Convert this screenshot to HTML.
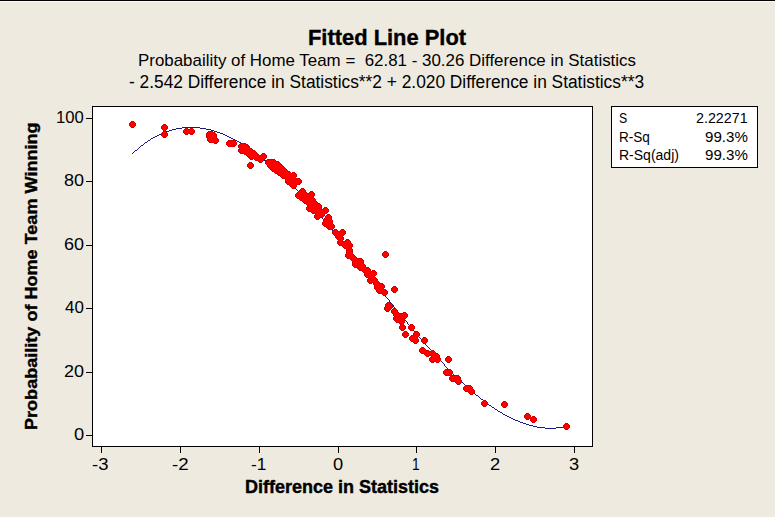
<!DOCTYPE html>
<html><head><meta charset="utf-8"><style>
html,body{margin:0;padding:0;}
body{width:775px;height:517px;overflow:hidden;background:#EEEAE0;position:relative;font-family:"Liberation Sans",sans-serif;color:#000;}
.t{position:absolute;white-space:nowrap;line-height:1;transform-origin:0 0;}
#topline{position:absolute;left:0;top:0;width:775px;height:1px;background:#000;}
#topline2{position:absolute;left:0;top:1px;width:775px;height:1px;background:#FBFAF3;}
svg{position:absolute;left:0;top:0;}
</style></head><body>
<div id="topline"></div><div id="topline2"></div>
<svg width="775" height="517" viewBox="0 0 775 517">
<rect x="92.5" y="106.5" width="500" height="340" fill="#fff" stroke="#000" stroke-width="1" shape-rendering="crispEdges"/>
<g stroke="#000" stroke-width="1" shape-rendering="crispEdges"><line x1="86" y1="118.5" x2="92" y2="118.5"/><line x1="86" y1="181.5" x2="92" y2="181.5"/><line x1="86" y1="245.5" x2="92" y2="245.5"/><line x1="86" y1="308.5" x2="92" y2="308.5"/><line x1="86" y1="372.5" x2="92" y2="372.5"/><line x1="86" y1="435.5" x2="92" y2="435.5"/><line x1="101.5" y1="447" x2="101.5" y2="453"/><line x1="180.5" y1="447" x2="180.5" y2="453"/><line x1="259.5" y1="447" x2="259.5" y2="453"/><line x1="338.5" y1="447" x2="338.5" y2="453"/><line x1="416.5" y1="447" x2="416.5" y2="453"/><line x1="495.5" y1="447" x2="495.5" y2="453"/><line x1="574.5" y1="447" x2="574.5" y2="453"/></g>
<rect x="611.5" y="106.5" width="146" height="61" fill="#fff" stroke="#000" stroke-width="1" shape-rendering="crispEdges"/>
<path d="M182 127h18v1h-18zM176 128h6v1h-6zM200 128h6v1h-6zM172 129h4v1h-4zM206 129h5v1h-5zM169 130h3v1h-3zM211 130h3v1h-3zM166 131h3v1h-3zM214 131h3v1h-3zM163 132h3v1h-3zM217 132h3v1h-3zM161 133h2v1h-2zM220 133h3v1h-3zM159 134h2v1h-2zM223 134h2v1h-2zM157 135h2v1h-2zM225 135h2v1h-2zM155 136h2v1h-2zM227 136h2v1h-2zM153 137h2v1h-2zM229 137h2v1h-2zM151 138h2v1h-2zM231 138h2v1h-2zM150 139h1v1h-1zM233 139h2v1h-2zM148 140h2v1h-2zM235 140h2v1h-2zM147 141h1v1h-1zM237 141h2v1h-2zM145 142h2v1h-2zM239 142h2v1h-2zM144 143h1v1h-1zM241 143h1v1h-1zM143 144h1v1h-1zM242 144h2v1h-2zM141 145h2v1h-2zM244 145h1v1h-1zM140 146h1v1h-1zM245 146h2v1h-2zM139 147h1v1h-1zM247 147h1v1h-1zM138 148h1v1h-1zM248 148h2v1h-2zM137 149h1v1h-1zM250 149h1v1h-1zM135 150h2v1h-2zM251 150h2v1h-2zM134 151h1v1h-1zM253 151h1v1h-1zM133 152h1v1h-1zM254 152h1v1h-1zM132 153h1v1h-1zM255 153h2v1h-2zM257 154h1v1h-1zM258 155h1v1h-1zM259 156h2v1h-2zM261 157h1v1h-1zM262 158h1v1h-1zM263 159h1v1h-1zM264 160h2v1h-2zM266 161h1v1h-1zM267 162h1v1h-1zM268 163h1v1h-1zM269 164h1v1h-1zM270 165h2v1h-2zM272 166h1v1h-1zM273 167h1v1h-1zM274 168h1v1h-1zM275 169h1v1h-1zM276 170h1v1h-1zM277 171h1v1h-1zM278 172h1v1h-1zM279 173h1v1h-1zM280 174h1v1h-1zM281 175h2v1h-2zM283 176h1v1h-1zM284 177h1v1h-1zM285 178h1v1h-1zM286 179h1v1h-1zM287 180h1v1h-1zM288 181h1v1h-1zM289 182h1v1h-1zM290 183h1v1h-1zM291 184h1v1h-1zM292 185h1v1h-1zM293 186h1v1h-1zM294 187h1v1h-1zM295 188h1v1h-1zM296 189h1v1h-1zM297 190h1v1h-1zM298 191h1v1h-1zM298 192h1v1h-1zM299 193h1v1h-1zM300 194h1v1h-1zM301 195h1v1h-1zM302 196h1v1h-1zM303 197h1v1h-1zM304 198h1v1h-1zM305 199h1v1h-1zM306 200h1v1h-1zM307 201h1v1h-1zM308 202h1v1h-1zM309 203h1v1h-1zM310 204h1v1h-1zM310 205h1v1h-1zM311 206h1v1h-1zM312 207h1v1h-1zM313 208h1v1h-1zM314 209h1v1h-1zM315 210h1v1h-1zM316 211h1v1h-1zM317 212h1v1h-1zM318 213h1v1h-1zM318 214h1v1h-1zM319 215h1v1h-1zM320 216h1v1h-1zM321 217h1v1h-1zM322 218h1v1h-1zM323 219h1v1h-1zM324 220h1v1h-1zM324 221h1v1h-1zM325 222h1v1h-1zM326 223h1v1h-1zM327 224h1v1h-1zM328 225h1v1h-1zM329 226h1v1h-1zM330 227h1v1h-1zM330 228h1v1h-1zM331 229h1v1h-1zM332 230h1v1h-1zM333 231h1v1h-1zM334 232h1v1h-1zM335 233h1v1h-1zM335 234h1v1h-1zM336 235h1v1h-1zM337 236h1v1h-1zM338 237h1v1h-1zM339 238h1v1h-1zM340 239h1v1h-1zM340 240h1v1h-1zM341 241h1v1h-1zM342 242h1v1h-1zM343 243h1v1h-1zM344 244h1v1h-1zM344 245h1v1h-1zM345 246h1v1h-1zM346 247h1v1h-1zM347 248h1v1h-1zM348 249h1v1h-1zM349 250h1v1h-1zM349 251h1v1h-1zM350 252h1v1h-1zM351 253h1v1h-1zM352 254h1v1h-1zM353 255h1v1h-1zM353 256h1v1h-1zM354 257h1v1h-1zM355 258h1v1h-1zM356 259h1v1h-1zM357 260h1v1h-1zM357 261h1v1h-1zM358 262h1v1h-1zM359 263h1v1h-1zM360 264h1v1h-1zM361 265h1v1h-1zM361 266h1v1h-1zM362 267h1v1h-1zM363 268h1v1h-1zM364 269h1v1h-1zM365 270h1v1h-1zM365 271h1v1h-1zM366 272h1v1h-1zM367 273h1v1h-1zM368 274h1v1h-1zM369 275h1v1h-1zM369 276h1v1h-1zM370 277h1v1h-1zM371 278h1v1h-1zM372 279h1v1h-1zM373 280h1v1h-1zM373 281h1v1h-1zM374 282h1v1h-1zM375 283h1v1h-1zM376 284h1v1h-1zM377 285h1v1h-1zM377 286h1v1h-1zM378 287h1v1h-1zM379 288h1v1h-1zM380 289h1v1h-1zM381 290h1v1h-1zM381 291h1v1h-1zM382 292h1v1h-1zM383 293h1v1h-1zM384 294h1v1h-1zM385 295h1v1h-1zM385 296h1v1h-1zM386 297h1v1h-1zM387 298h1v1h-1zM388 299h1v1h-1zM389 300h1v1h-1zM389 301h1v1h-1zM390 302h1v1h-1zM391 303h1v1h-1zM392 304h1v1h-1zM393 305h1v1h-1zM393 306h1v1h-1zM394 307h1v1h-1zM395 308h1v1h-1zM396 309h1v1h-1zM397 310h1v1h-1zM397 311h1v1h-1zM398 312h1v1h-1zM399 313h1v1h-1zM400 314h1v1h-1zM401 315h1v1h-1zM402 316h1v1h-1zM402 317h1v1h-1zM403 318h1v1h-1zM404 319h1v1h-1zM405 320h1v1h-1zM406 321h1v1h-1zM407 322h1v1h-1zM407 323h1v1h-1zM408 324h1v1h-1zM409 325h1v1h-1zM410 326h1v1h-1zM411 327h1v1h-1zM412 328h1v1h-1zM412 329h1v1h-1zM413 330h1v1h-1zM414 331h1v1h-1zM415 332h1v1h-1zM416 333h1v1h-1zM417 334h1v1h-1zM417 335h1v1h-1zM418 336h1v1h-1zM419 337h1v1h-1zM420 338h1v1h-1zM421 339h1v1h-1zM422 340h1v1h-1zM423 341h1v1h-1zM424 342h1v1h-1zM424 343h1v1h-1zM425 344h1v1h-1zM426 345h1v1h-1zM427 346h1v1h-1zM428 347h1v1h-1zM429 348h1v1h-1zM430 349h1v1h-1zM431 350h1v1h-1zM431 351h1v1h-1zM432 352h1v1h-1zM433 353h1v1h-1zM434 354h1v1h-1zM435 355h1v1h-1zM436 356h1v1h-1zM437 357h1v1h-1zM438 358h1v1h-1zM439 359h1v1h-1zM440 360h1v1h-1zM441 361h1v1h-1zM442 362h1v1h-1zM443 363h1v1h-1zM444 364h1v1h-1zM444 365h1v1h-1zM445 366h1v1h-1zM446 367h1v1h-1zM447 368h1v1h-1zM448 369h1v1h-1zM449 370h1v1h-1zM450 371h1v1h-1zM451 372h1v1h-1zM452 373h1v1h-1zM453 374h1v1h-1zM454 375h1v1h-1zM455 376h1v1h-1zM456 377h1v1h-1zM457 378h1v1h-1zM458 379h2v1h-2zM460 380h1v1h-1zM461 381h1v1h-1zM462 382h1v1h-1zM463 383h1v1h-1zM464 384h1v1h-1zM465 385h1v1h-1zM466 386h1v1h-1zM467 387h1v1h-1zM468 388h1v1h-1zM469 389h1v1h-1zM470 390h2v1h-2zM472 391h1v1h-1zM473 392h1v1h-1zM474 393h1v1h-1zM475 394h1v1h-1zM476 395h2v1h-2zM478 396h1v1h-1zM479 397h1v1h-1zM480 398h1v1h-1zM481 399h2v1h-2zM483 400h1v1h-1zM484 401h1v1h-1zM485 402h2v1h-2zM487 403h1v1h-1zM488 404h1v1h-1zM489 405h2v1h-2zM491 406h1v1h-1zM492 407h2v1h-2zM494 408h1v1h-1zM495 409h2v1h-2zM497 410h1v1h-1zM498 411h2v1h-2zM500 412h2v1h-2zM502 413h1v1h-1zM503 414h2v1h-2zM505 415h2v1h-2zM507 416h2v1h-2zM509 417h2v1h-2zM511 418h2v1h-2zM513 419h2v1h-2zM515 420h3v1h-3zM518 421h2v1h-2zM520 422h3v1h-3zM523 423h3v1h-3zM526 424h3v1h-3zM529 425h4v1h-4zM533 426h4v1h-4zM564 426h3v1h-3zM537 427h8v1h-8zM556 427h8v1h-8zM545 428h11v1h-11z" fill="#1A1A86" shape-rendering="crispEdges"/>
<path d="M131 121h3v1h-3zM130 122h1v1h-1zM134 122h1v1h-1zM129 123h1v1h-1zM135 123h1v1h-1zM129 124h1v1h-1zM135 124h1v1h-1zM163 124h3v1h-3zM129 125h1v1h-1zM135 125h1v1h-1zM162 125h1v1h-1zM166 125h1v1h-1zM130 126h1v1h-1zM134 126h1v1h-1zM161 126h1v1h-1zM167 126h1v1h-1zM131 127h3v1h-3zM161 127h1v1h-1zM167 127h1v1h-1zM161 128h1v1h-1zM167 128h1v1h-1zM185 128h3v1h-3zM190 128h3v1h-3zM162 129h1v1h-1zM166 129h1v1h-1zM184 129h1v1h-1zM188 129h2v1h-2zM193 129h1v1h-1zM163 130h1v1h-1zM165 130h1v1h-1zM183 130h1v1h-1zM194 130h1v1h-1zM163 131h1v1h-1zM165 131h1v1h-1zM183 131h1v1h-1zM194 131h1v1h-1zM208 131h5v1h-5zM162 132h1v1h-1zM166 132h1v1h-1zM183 132h1v1h-1zM194 132h1v1h-1zM207 132h1v1h-1zM213 132h2v1h-2zM161 133h1v1h-1zM167 133h1v1h-1zM184 133h1v1h-1zM188 133h2v1h-2zM193 133h1v1h-1zM206 133h1v1h-1zM215 133h1v1h-1zM161 134h1v1h-1zM167 134h1v1h-1zM185 134h3v1h-3zM190 134h3v1h-3zM206 134h1v1h-1zM216 134h1v1h-1zM161 135h1v1h-1zM167 135h1v1h-1zM206 135h1v1h-1zM216 135h1v1h-1zM162 136h1v1h-1zM166 136h1v1h-1zM206 136h1v1h-1zM216 136h1v1h-1zM163 137h3v1h-3zM206 137h1v1h-1zM216 137h1v1h-1zM207 138h1v1h-1zM217 138h1v1h-1zM207 139h1v1h-1zM218 139h1v1h-1zM207 140h1v1h-1zM218 140h1v1h-1zM228 140h7v1h-7zM208 141h1v1h-1zM218 141h1v1h-1zM227 141h1v1h-1zM235 141h1v1h-1zM209 142h5v1h-5zM217 142h1v1h-1zM226 142h1v1h-1zM236 142h1v1h-1zM214 143h3v1h-3zM226 143h1v1h-1zM236 143h1v1h-1zM240 143h6v1h-6zM226 144h1v1h-1zM236 144h1v1h-1zM239 144h1v1h-1zM246 144h2v1h-2zM227 145h1v1h-1zM235 145h1v1h-1zM238 145h1v1h-1zM248 145h1v1h-1zM228 146h7v1h-7zM238 146h1v1h-1zM249 146h1v1h-1zM238 147h1v1h-1zM249 147h1v1h-1zM239 148h1v1h-1zM250 148h2v1h-2zM238 149h1v1h-1zM252 149h1v1h-1zM238 150h1v1h-1zM253 150h2v1h-2zM238 151h1v1h-1zM255 151h1v1h-1zM239 152h1v1h-1zM256 152h1v1h-1zM240 153h4v1h-4zM257 153h1v1h-1zM262 153h3v1h-3zM244 154h2v1h-2zM258 154h1v1h-1zM261 154h1v1h-1zM265 154h1v1h-1zM246 155h1v1h-1zM259 155h2v1h-2zM266 155h1v1h-1zM247 156h1v1h-1zM266 156h1v1h-1zM248 157h1v1h-1zM266 157h1v1h-1zM249 158h1v1h-1zM253 158h1v1h-1zM265 158h1v1h-1zM250 159h3v1h-3zM254 159h1v1h-1zM264 159h1v1h-1zM267 159h8v1h-8zM255 160h3v1h-3zM263 160h1v1h-1zM266 160h1v1h-1zM275 160h1v1h-1zM258 161h1v1h-1zM262 161h1v1h-1zM265 161h1v1h-1zM276 161h3v1h-3zM249 162h3v1h-3zM259 162h3v1h-3zM265 162h1v1h-1zM279 162h1v1h-1zM248 163h1v1h-1zM252 163h1v1h-1zM265 163h1v1h-1zM280 163h1v1h-1zM247 164h1v1h-1zM253 164h1v1h-1zM266 164h1v1h-1zM281 164h1v1h-1zM247 165h1v1h-1zM253 165h1v1h-1zM267 165h1v1h-1zM282 165h1v1h-1zM247 166h1v1h-1zM253 166h1v1h-1zM267 166h1v1h-1zM283 166h1v1h-1zM248 167h1v1h-1zM252 167h1v1h-1zM268 167h1v1h-1zM284 167h1v1h-1zM249 168h3v1h-3zM269 168h1v1h-1zM285 168h1v1h-1zM270 169h1v1h-1zM286 169h1v1h-1zM271 170h1v1h-1zM287 170h1v1h-1zM272 171h2v1h-2zM288 171h2v1h-2zM274 172h1v1h-1zM290 172h1v1h-1zM292 172h3v1h-3zM275 173h2v1h-2zM291 173h1v1h-1zM295 173h1v1h-1zM277 174h1v1h-1zM296 174h1v1h-1zM278 175h2v1h-2zM296 175h1v1h-1zM280 176h1v1h-1zM296 176h1v1h-1zM281 177h1v1h-1zM295 177h1v1h-1zM282 178h3v1h-3zM296 178h4v1h-4zM285 179h1v1h-1zM300 179h1v1h-1zM285 180h1v1h-1zM301 180h1v1h-1zM285 181h1v1h-1zM301 181h1v1h-1zM285 182h1v1h-1zM301 182h1v1h-1zM286 183h1v1h-1zM300 183h1v1h-1zM287 184h2v1h-2zM297 184h3v1h-3zM289 185h1v1h-1zM296 185h1v1h-1zM290 186h1v1h-1zM296 186h1v1h-1zM291 187h1v1h-1zM295 187h1v1h-1zM292 188h3v1h-3zM301 188h3v1h-3zM300 189h1v1h-1zM304 189h1v1h-1zM299 190h1v1h-1zM305 190h1v1h-1zM298 191h1v1h-1zM305 191h1v1h-1zM310 191h3v1h-3zM297 192h1v1h-1zM306 192h1v1h-1zM309 192h1v1h-1zM313 192h1v1h-1zM296 193h1v1h-1zM307 193h2v1h-2zM314 193h1v1h-1zM295 194h1v1h-1zM314 194h1v1h-1zM295 195h1v1h-1zM314 195h1v1h-1zM295 196h1v1h-1zM313 196h1v1h-1zM296 197h1v1h-1zM313 197h1v1h-1zM297 198h2v1h-2zM314 198h1v1h-1zM299 199h1v1h-1zM315 199h1v1h-1zM300 200h2v1h-2zM315 200h1v1h-1zM302 201h1v1h-1zM316 201h1v1h-1zM303 202h1v1h-1zM317 202h1v1h-1zM304 203h2v1h-2zM318 203h2v1h-2zM306 204h1v1h-1zM320 204h1v1h-1zM307 205h1v1h-1zM321 205h1v1h-1zM307 206h1v1h-1zM321 206h1v1h-1zM306 207h1v1h-1zM321 207h1v1h-1zM324 207h3v1h-3zM306 208h1v1h-1zM321 208h1v1h-1zM323 208h1v1h-1zM327 208h1v1h-1zM306 209h1v1h-1zM322 209h1v1h-1zM328 209h1v1h-1zM307 210h1v1h-1zM328 210h1v1h-1zM308 211h3v1h-3zM328 211h1v1h-1zM311 212h1v1h-1zM327 212h1v1h-1zM312 213h3v1h-3zM325 213h2v1h-2zM315 214h1v1h-1zM324 214h1v1h-1zM327 214h3v1h-3zM314 215h1v1h-1zM324 215h1v1h-1zM326 215h1v1h-1zM330 215h1v1h-1zM314 216h1v1h-1zM323 216h1v1h-1zM325 216h1v1h-1zM331 216h1v1h-1zM314 217h1v1h-1zM320 217h3v1h-3zM325 217h1v1h-1zM331 217h1v1h-1zM315 218h1v1h-1zM319 218h1v1h-1zM324 218h1v1h-1zM331 218h1v1h-1zM316 219h3v1h-3zM323 219h1v1h-1zM331 219h1v1h-1zM323 220h1v1h-1zM332 220h1v1h-1zM323 221h1v1h-1zM332 221h1v1h-1zM322 222h1v1h-1zM332 222h1v1h-1zM322 223h1v1h-1zM332 223h1v1h-1zM322 224h1v1h-1zM333 224h1v1h-1zM323 225h1v1h-1zM334 225h1v1h-1zM324 226h2v1h-2zM334 226h1v1h-1zM326 227h1v1h-1zM334 227h1v1h-1zM327 228h1v1h-1zM333 228h1v1h-1zM328 229h5v1h-5zM334 229h3v1h-3zM341 229h3v1h-3zM333 230h1v1h-1zM337 230h1v1h-1zM340 230h1v1h-1zM344 230h1v1h-1zM332 231h1v1h-1zM338 231h2v1h-2zM345 231h1v1h-1zM332 232h1v1h-1zM345 232h1v1h-1zM332 233h1v1h-1zM345 233h1v1h-1zM333 234h1v1h-1zM344 234h1v1h-1zM334 235h1v1h-1zM343 235h1v1h-1zM335 236h1v1h-1zM342 236h1v1h-1zM335 237h1v1h-1zM343 237h1v1h-1zM336 238h1v1h-1zM343 238h1v1h-1zM337 239h1v1h-1zM343 239h1v1h-1zM346 239h3v1h-3zM338 240h1v1h-1zM342 240h1v1h-1zM345 240h1v1h-1zM349 240h1v1h-1zM337 241h1v1h-1zM343 241h2v1h-2zM350 241h1v1h-1zM337 242h1v1h-1zM350 242h1v1h-1zM337 243h1v1h-1zM351 243h1v1h-1zM338 244h1v1h-1zM352 244h1v1h-1zM339 245h3v1h-3zM352 245h1v1h-1zM342 246h1v1h-1zM352 246h1v1h-1zM343 247h1v1h-1zM351 247h1v1h-1zM344 248h2v1h-2zM351 248h1v1h-1zM346 249h1v1h-1zM352 249h1v1h-1zM346 250h1v1h-1zM352 250h1v1h-1zM346 251h1v1h-1zM352 251h1v1h-1zM384 251h3v1h-3zM346 252h1v1h-1zM352 252h1v1h-1zM383 252h1v1h-1zM387 252h1v1h-1zM346 253h1v1h-1zM352 253h1v1h-1zM382 253h1v1h-1zM388 253h1v1h-1zM345 254h1v1h-1zM353 254h1v1h-1zM382 254h1v1h-1zM388 254h1v1h-1zM345 255h1v1h-1zM354 255h1v1h-1zM382 255h1v1h-1zM388 255h1v1h-1zM345 256h1v1h-1zM355 256h1v1h-1zM383 256h1v1h-1zM387 256h1v1h-1zM346 257h1v1h-1zM356 257h1v1h-1zM384 257h3v1h-3zM347 258h3v1h-3zM357 258h5v1h-5zM350 259h1v1h-1zM362 259h1v1h-1zM351 260h1v1h-1zM363 260h1v1h-1zM352 261h1v1h-1zM363 261h1v1h-1zM352 262h1v1h-1zM363 262h1v1h-1zM352 263h1v1h-1zM363 263h1v1h-1zM352 264h1v1h-1zM364 264h1v1h-1zM352 265h1v1h-1zM365 265h1v1h-1zM353 266h1v1h-1zM365 266h1v1h-1zM354 267h3v1h-3zM366 267h3v1h-3zM357 268h1v1h-1zM369 268h1v1h-1zM358 269h1v1h-1zM370 269h1v1h-1zM359 270h3v1h-3zM370 270h1v1h-1zM372 270h3v1h-3zM362 271h1v1h-1zM371 271h1v1h-1zM375 271h1v1h-1zM363 272h1v1h-1zM376 272h1v1h-1zM364 273h1v1h-1zM376 273h1v1h-1zM364 274h1v1h-1zM376 274h1v1h-1zM364 275h1v1h-1zM375 275h1v1h-1zM365 276h1v1h-1zM374 276h1v1h-1zM366 277h2v1h-2zM375 277h1v1h-1zM368 278h1v1h-1zM376 278h1v1h-1zM367 279h1v1h-1zM377 279h1v1h-1zM367 280h1v1h-1zM377 280h1v1h-1zM367 281h1v1h-1zM378 281h1v1h-1zM368 282h1v1h-1zM372 282h1v1h-1zM379 282h1v1h-1zM369 283h3v1h-3zM373 283h1v1h-1zM380 283h3v1h-3zM373 284h1v1h-1zM383 284h1v1h-1zM374 285h1v1h-1zM384 285h1v1h-1zM374 286h1v1h-1zM384 286h1v1h-1zM393 286h3v1h-3zM374 287h1v1h-1zM384 287h1v1h-1zM392 287h1v1h-1zM396 287h1v1h-1zM374 288h1v1h-1zM383 288h1v1h-1zM391 288h1v1h-1zM397 288h1v1h-1zM375 289h1v1h-1zM384 289h2v1h-2zM391 289h1v1h-1zM397 289h1v1h-1zM376 290h1v1h-1zM386 290h1v1h-1zM391 290h1v1h-1zM397 290h1v1h-1zM376 291h1v1h-1zM387 291h1v1h-1zM392 291h1v1h-1zM396 291h1v1h-1zM377 292h1v1h-1zM387 292h1v1h-1zM393 292h3v1h-3zM378 293h4v1h-4zM387 293h1v1h-1zM382 294h1v1h-1zM386 294h1v1h-1zM383 295h3v1h-3zM387 302h3v1h-3zM386 303h1v1h-1zM390 303h1v1h-1zM385 304h1v1h-1zM391 304h1v1h-1zM385 305h1v1h-1zM392 305h1v1h-1zM385 306h1v1h-1zM392 306h1v1h-1zM384 307h1v1h-1zM392 307h1v1h-1zM384 308h1v1h-1zM391 308h1v1h-1zM393 308h3v1h-3zM384 309h1v1h-1zM390 309h1v1h-1zM392 309h1v1h-1zM396 309h1v1h-1zM385 310h1v1h-1zM389 310h1v1h-1zM391 310h1v1h-1zM397 310h1v1h-1zM386 311h3v1h-3zM391 311h1v1h-1zM397 311h1v1h-1zM391 312h1v1h-1zM398 312h1v1h-1zM403 312h3v1h-3zM392 313h1v1h-1zM399 313h4v1h-4zM406 313h1v1h-1zM393 314h1v1h-1zM407 314h1v1h-1zM393 315h1v1h-1zM407 315h1v1h-1zM394 316h1v1h-1zM407 316h1v1h-1zM393 317h1v1h-1zM406 317h1v1h-1zM393 318h1v1h-1zM404 318h2v1h-2zM393 319h1v1h-1zM403 319h1v1h-1zM394 320h1v1h-1zM404 320h1v1h-1zM395 321h1v1h-1zM404 321h1v1h-1zM396 322h3v1h-3zM404 322h1v1h-1zM399 323h1v1h-1zM403 323h1v1h-1zM400 324h1v1h-1zM403 324h1v1h-1zM410 324h3v1h-3zM400 325h1v1h-1zM404 325h1v1h-1zM409 325h1v1h-1zM413 325h1v1h-1zM399 326h1v1h-1zM405 326h1v1h-1zM408 326h1v1h-1zM414 326h1v1h-1zM399 327h1v1h-1zM405 327h1v1h-1zM408 327h1v1h-1zM414 327h1v1h-1zM399 328h1v1h-1zM405 328h1v1h-1zM408 328h1v1h-1zM414 328h1v1h-1zM400 329h1v1h-1zM404 329h1v1h-1zM409 329h1v1h-1zM413 329h1v1h-1zM401 330h3v1h-3zM410 330h3v1h-3zM404 331h3v1h-3zM415 331h3v1h-3zM403 332h1v1h-1zM407 332h1v1h-1zM414 332h1v1h-1zM418 332h1v1h-1zM402 333h1v1h-1zM408 333h1v1h-1zM413 333h1v1h-1zM419 333h1v1h-1zM402 334h1v1h-1zM408 334h1v1h-1zM413 334h1v1h-1zM419 334h1v1h-1zM402 335h1v1h-1zM408 335h1v1h-1zM411 335h2v1h-2zM419 335h1v1h-1zM403 336h1v1h-1zM407 336h1v1h-1zM410 336h1v1h-1zM418 336h1v1h-1zM404 337h3v1h-3zM409 337h1v1h-1zM417 337h1v1h-1zM423 337h3v1h-3zM409 338h1v1h-1zM417 338h1v1h-1zM422 338h1v1h-1zM426 338h1v1h-1zM409 339h1v1h-1zM418 339h1v1h-1zM421 339h1v1h-1zM427 339h1v1h-1zM410 340h1v1h-1zM418 340h1v1h-1zM421 340h1v1h-1zM427 340h1v1h-1zM411 341h2v1h-2zM418 341h1v1h-1zM421 341h1v1h-1zM427 341h1v1h-1zM413 342h1v1h-1zM417 342h1v1h-1zM422 342h1v1h-1zM426 342h1v1h-1zM414 343h3v1h-3zM423 343h3v1h-3zM421 347h3v1h-3zM420 348h1v1h-1zM424 348h1v1h-1zM419 349h1v1h-1zM425 349h1v1h-1zM419 350h1v1h-1zM426 350h3v1h-3zM431 350h3v1h-3zM419 351h1v1h-1zM429 351h2v1h-2zM434 351h1v1h-1zM420 352h1v1h-1zM435 352h1v1h-1zM421 353h3v1h-3zM436 353h2v1h-2zM424 354h1v1h-1zM438 354h1v1h-1zM425 355h1v1h-1zM429 355h2v1h-2zM439 355h1v1h-1zM426 356h3v1h-3zM431 356h1v1h-1zM439 356h1v1h-1zM447 356h3v1h-3zM430 357h1v1h-1zM439 357h1v1h-1zM446 357h1v1h-1zM450 357h1v1h-1zM429 358h1v1h-1zM440 358h1v1h-1zM445 358h1v1h-1zM451 358h1v1h-1zM429 359h1v1h-1zM440 359h1v1h-1zM445 359h1v1h-1zM451 359h1v1h-1zM429 360h1v1h-1zM440 360h1v1h-1zM445 360h1v1h-1zM451 360h1v1h-1zM430 361h1v1h-1zM434 361h2v1h-2zM439 361h1v1h-1zM446 361h1v1h-1zM450 361h1v1h-1zM431 362h3v1h-3zM436 362h3v1h-3zM447 362h3v1h-3zM445 369h6v1h-6zM444 370h1v1h-1zM451 370h1v1h-1zM443 371h1v1h-1zM452 371h1v1h-1zM443 372h1v1h-1zM452 372h1v1h-1zM443 373h1v1h-1zM452 373h1v1h-1zM444 374h1v1h-1zM451 374h1v1h-1zM445 375h5v1h-5zM452 375h7v1h-7zM450 376h1v1h-1zM459 376h1v1h-1zM449 377h1v1h-1zM460 377h1v1h-1zM449 378h1v1h-1zM460 378h1v1h-1zM449 379h1v1h-1zM460 379h1v1h-1zM450 380h1v1h-1zM461 380h1v1h-1zM451 381h4v1h-4zM461 381h1v1h-1zM455 382h1v1h-1zM461 382h1v1h-1zM456 383h1v1h-1zM460 383h1v1h-1zM457 384h3v1h-3zM465 385h6v1h-6zM464 386h1v1h-1zM471 386h1v1h-1zM463 387h1v1h-1zM472 387h1v1h-1zM463 388h1v1h-1zM472 388h1v1h-1zM463 389h1v1h-1zM473 389h1v1h-1zM464 390h1v1h-1zM474 390h1v1h-1zM465 391h3v1h-3zM474 391h1v1h-1zM468 392h1v1h-1zM474 392h1v1h-1zM469 393h1v1h-1zM473 393h1v1h-1zM470 394h3v1h-3zM483 400h3v1h-3zM482 401h1v1h-1zM486 401h1v1h-1zM503 401h3v1h-3zM481 402h1v1h-1zM487 402h1v1h-1zM502 402h1v1h-1zM506 402h1v1h-1zM481 403h1v1h-1zM487 403h1v1h-1zM501 403h1v1h-1zM507 403h1v1h-1zM481 404h1v1h-1zM487 404h1v1h-1zM501 404h1v1h-1zM507 404h1v1h-1zM482 405h1v1h-1zM486 405h1v1h-1zM501 405h1v1h-1zM507 405h1v1h-1zM483 406h3v1h-3zM502 406h1v1h-1zM506 406h1v1h-1zM503 407h3v1h-3zM526 413h3v1h-3zM525 414h1v1h-1zM529 414h1v1h-1zM524 415h1v1h-1zM530 415h1v1h-1zM524 416h1v1h-1zM530 416h1v1h-1zM532 416h3v1h-3zM524 417h1v1h-1zM531 417h1v1h-1zM535 417h1v1h-1zM525 418h1v1h-1zM529 418h1v1h-1zM536 418h1v1h-1zM526 419h3v1h-3zM530 419h1v1h-1zM536 419h1v1h-1zM530 420h1v1h-1zM536 420h1v1h-1zM531 421h1v1h-1zM535 421h1v1h-1zM532 422h3v1h-3zM565 423h3v1h-3zM564 424h1v1h-1zM568 424h1v1h-1zM563 425h1v1h-1zM569 425h1v1h-1zM563 426h1v1h-1zM569 426h1v1h-1zM563 427h1v1h-1zM569 427h1v1h-1zM564 428h1v1h-1zM568 428h1v1h-1zM565 429h3v1h-3z" fill="#D00000" shape-rendering="crispEdges"/>
<path d="M131 122h3v1h-3zM130 123h5v1h-5zM130 124h5v1h-5zM130 125h5v1h-5zM163 125h3v1h-3zM131 126h3v1h-3zM162 126h5v1h-5zM162 127h5v1h-5zM162 128h5v1h-5zM163 129h3v1h-3zM185 129h3v1h-3zM190 129h3v1h-3zM164 130h1v1h-1zM184 130h10v1h-10zM164 131h1v1h-1zM184 131h10v1h-10zM163 132h3v1h-3zM184 132h10v1h-10zM208 132h5v1h-5zM162 133h5v1h-5zM185 133h3v1h-3zM190 133h3v1h-3zM207 133h8v1h-8zM162 134h5v1h-5zM207 134h9v1h-9zM162 135h5v1h-5zM207 135h9v1h-9zM163 136h3v1h-3zM207 136h9v1h-9zM207 137h9v1h-9zM208 138h9v1h-9zM208 139h10v1h-10zM208 140h10v1h-10zM209 141h9v1h-9zM228 141h7v1h-7zM214 142h3v1h-3zM227 142h9v1h-9zM227 143h9v1h-9zM227 144h9v1h-9zM240 144h6v1h-6zM228 145h7v1h-7zM239 145h9v1h-9zM239 146h10v1h-10zM239 147h10v1h-10zM240 148h10v1h-10zM239 149h13v1h-13zM239 150h14v1h-14zM239 151h16v1h-16zM240 152h16v1h-16zM244 153h13v1h-13zM246 154h12v1h-12zM262 154h3v1h-3zM247 155h12v1h-12zM261 155h5v1h-5zM248 156h18v1h-18zM249 157h17v1h-17zM250 158h3v1h-3zM254 158h11v1h-11zM255 159h9v1h-9zM258 160h5v1h-5zM267 160h8v1h-8zM259 161h3v1h-3zM266 161h10v1h-10zM266 162h13v1h-13zM249 163h3v1h-3zM266 163h14v1h-14zM248 164h5v1h-5zM267 164h14v1h-14zM248 165h5v1h-5zM268 165h14v1h-14zM248 166h5v1h-5zM268 166h15v1h-15zM249 167h3v1h-3zM269 167h15v1h-15zM270 168h15v1h-15zM271 169h15v1h-15zM272 170h15v1h-15zM274 171h14v1h-14zM275 172h15v1h-15zM277 173h14v1h-14zM292 173h3v1h-3zM278 174h18v1h-18zM280 175h16v1h-16zM281 176h15v1h-15zM282 177h13v1h-13zM285 178h11v1h-11zM286 179h14v1h-14zM286 180h15v1h-15zM286 181h15v1h-15zM286 182h15v1h-15zM287 183h13v1h-13zM289 184h8v1h-8zM290 185h6v1h-6zM291 186h5v1h-5zM292 187h3v1h-3zM301 189h3v1h-3zM300 190h5v1h-5zM299 191h6v1h-6zM298 192h8v1h-8zM310 192h3v1h-3zM297 193h10v1h-10zM309 193h5v1h-5zM296 194h18v1h-18zM296 195h18v1h-18zM296 196h17v1h-17zM297 197h16v1h-16zM299 198h15v1h-15zM300 199h15v1h-15zM302 200h13v1h-13zM303 201h13v1h-13zM304 202h13v1h-13zM306 203h12v1h-12zM307 204h13v1h-13zM308 205h13v1h-13zM308 206h13v1h-13zM307 207h14v1h-14zM307 208h14v1h-14zM324 208h3v1h-3zM307 209h15v1h-15zM323 209h5v1h-5zM308 210h20v1h-20zM311 211h17v1h-17zM312 212h15v1h-15zM315 213h10v1h-10zM316 214h8v1h-8zM315 215h9v1h-9zM327 215h3v1h-3zM315 216h8v1h-8zM326 216h5v1h-5zM315 217h5v1h-5zM326 217h5v1h-5zM316 218h3v1h-3zM325 218h6v1h-6zM324 219h7v1h-7zM324 220h8v1h-8zM324 221h8v1h-8zM323 222h9v1h-9zM323 223h9v1h-9zM323 224h10v1h-10zM324 225h10v1h-10zM326 226h8v1h-8zM327 227h7v1h-7zM328 228h5v1h-5zM334 230h3v1h-3zM341 230h3v1h-3zM333 231h5v1h-5zM340 231h5v1h-5zM333 232h12v1h-12zM333 233h12v1h-12zM334 234h10v1h-10zM335 235h8v1h-8zM336 236h6v1h-6zM336 237h7v1h-7zM337 238h6v1h-6zM338 239h5v1h-5zM339 240h3v1h-3zM346 240h3v1h-3zM338 241h5v1h-5zM345 241h5v1h-5zM338 242h12v1h-12zM338 243h13v1h-13zM339 244h13v1h-13zM342 245h10v1h-10zM343 246h9v1h-9zM344 247h7v1h-7zM346 248h5v1h-5zM347 249h5v1h-5zM347 250h5v1h-5zM347 251h5v1h-5zM347 252h5v1h-5zM384 252h3v1h-3zM347 253h5v1h-5zM383 253h5v1h-5zM346 254h7v1h-7zM383 254h5v1h-5zM346 255h8v1h-8zM383 255h5v1h-5zM346 256h9v1h-9zM384 256h3v1h-3zM347 257h9v1h-9zM350 258h7v1h-7zM351 259h11v1h-11zM352 260h11v1h-11zM353 261h10v1h-10zM353 262h10v1h-10zM353 263h10v1h-10zM353 264h11v1h-11zM353 265h12v1h-12zM354 266h11v1h-11zM357 267h9v1h-9zM358 268h11v1h-11zM359 269h11v1h-11zM362 270h8v1h-8zM363 271h8v1h-8zM372 271h3v1h-3zM364 272h12v1h-12zM365 273h11v1h-11zM365 274h11v1h-11zM365 275h10v1h-10zM366 276h8v1h-8zM368 277h7v1h-7zM369 278h7v1h-7zM368 279h9v1h-9zM368 280h9v1h-9zM368 281h10v1h-10zM369 282h3v1h-3zM373 282h6v1h-6zM374 283h6v1h-6zM374 284h9v1h-9zM375 285h9v1h-9zM375 286h9v1h-9zM375 287h9v1h-9zM393 287h3v1h-3zM375 288h8v1h-8zM392 288h5v1h-5zM376 289h8v1h-8zM392 289h5v1h-5zM377 290h9v1h-9zM392 290h5v1h-5zM377 291h10v1h-10zM393 291h3v1h-3zM378 292h9v1h-9zM382 293h5v1h-5zM383 294h3v1h-3zM387 303h3v1h-3zM386 304h5v1h-5zM386 305h6v1h-6zM386 306h6v1h-6zM385 307h7v1h-7zM385 308h6v1h-6zM385 309h5v1h-5zM393 309h3v1h-3zM386 310h3v1h-3zM392 310h5v1h-5zM392 311h5v1h-5zM392 312h6v1h-6zM393 313h6v1h-6zM403 313h3v1h-3zM394 314h13v1h-13zM394 315h13v1h-13zM395 316h12v1h-12zM394 317h12v1h-12zM394 318h10v1h-10zM394 319h9v1h-9zM395 320h9v1h-9zM396 321h8v1h-8zM399 322h5v1h-5zM400 323h3v1h-3zM401 324h2v1h-2zM401 325h3v1h-3zM410 325h3v1h-3zM400 326h5v1h-5zM409 326h5v1h-5zM400 327h5v1h-5zM409 327h5v1h-5zM400 328h5v1h-5zM409 328h5v1h-5zM401 329h3v1h-3zM410 329h3v1h-3zM404 332h3v1h-3zM415 332h3v1h-3zM403 333h5v1h-5zM414 333h5v1h-5zM403 334h5v1h-5zM414 334h5v1h-5zM403 335h5v1h-5zM413 335h6v1h-6zM404 336h3v1h-3zM411 336h7v1h-7zM410 337h7v1h-7zM410 338h7v1h-7zM423 338h3v1h-3zM410 339h8v1h-8zM422 339h5v1h-5zM411 340h7v1h-7zM422 340h5v1h-5zM413 341h5v1h-5zM422 341h5v1h-5zM414 342h3v1h-3zM423 342h3v1h-3zM421 348h3v1h-3zM420 349h5v1h-5zM420 350h6v1h-6zM420 351h9v1h-9zM431 351h3v1h-3zM421 352h14v1h-14zM424 353h12v1h-12zM425 354h13v1h-13zM426 355h3v1h-3zM431 355h8v1h-8zM432 356h7v1h-7zM431 357h8v1h-8zM447 357h3v1h-3zM430 358h10v1h-10zM446 358h5v1h-5zM430 359h10v1h-10zM446 359h5v1h-5zM430 360h10v1h-10zM446 360h5v1h-5zM431 361h3v1h-3zM436 361h3v1h-3zM447 361h3v1h-3zM445 370h6v1h-6zM444 371h8v1h-8zM444 372h8v1h-8zM444 373h8v1h-8zM445 374h6v1h-6zM450 375h2v1h-2zM451 376h8v1h-8zM450 377h10v1h-10zM450 378h10v1h-10zM450 379h10v1h-10zM451 380h10v1h-10zM455 381h6v1h-6zM456 382h5v1h-5zM457 383h3v1h-3zM465 386h6v1h-6zM464 387h8v1h-8zM464 388h8v1h-8zM464 389h9v1h-9zM465 390h9v1h-9zM468 391h6v1h-6zM469 392h5v1h-5zM470 393h3v1h-3zM483 401h3v1h-3zM482 402h5v1h-5zM503 402h3v1h-3zM482 403h5v1h-5zM502 403h5v1h-5zM482 404h5v1h-5zM502 404h5v1h-5zM483 405h3v1h-3zM502 405h5v1h-5zM503 406h3v1h-3zM526 414h3v1h-3zM525 415h5v1h-5zM525 416h5v1h-5zM525 417h6v1h-6zM532 417h3v1h-3zM526 418h3v1h-3zM530 418h6v1h-6zM531 419h5v1h-5zM531 420h5v1h-5zM532 421h3v1h-3zM565 424h3v1h-3zM564 425h5v1h-5zM564 426h5v1h-5zM564 427h5v1h-5zM565 428h3v1h-3z" fill="#FF0000" shape-rendering="crispEdges"/>
</svg>
<div class="t" style="left:308.05px;top:27.06px;font-size:23px;font-weight:bold;-webkit-text-stroke:0.4px #000;transform:scale(0.9515,0.9444)">Fitted Line Plot</div>
<div class="t" style="left:138.06px;top:52.12px;font-size:18px;font-weight:normal;transform:scale(0.9394,0.9412)">Probabaility of Home Team =&nbsp; 62.81 - 30.26 Difference in Statistics</div>
<div class="t" style="left:129.04px;top:73.0px;font-size:18px;font-weight:normal;transform:scale(0.9625,1.0)">- 2.542 Difference in Statistics**2 + 2.020 Difference in Statistics**3</div>
<div class="t" style="left:245.0px;top:478.0px;font-size:18px;font-weight:bold;-webkit-text-stroke:0.4px #000;transform:scale(1.0,1.0)">Difference in Statistics</div>
<div class="t" style="left:619.12px;top:111.0px;font-size:14px;font-weight:normal;transform:scale(0.875,1.0)">S</div>
<div class="t" style="left:619.03px;top:130.0px;font-size:14px;font-weight:normal;transform:scale(0.9667,1.0)">R-Sq</div>
<div class="t" style="left:619.0px;top:148.0px;font-size:14px;font-weight:normal;transform:scale(1.0,1.0)">R-Sq(adj)</div>
<div class="t" style="left:695.98px;top:111.0px;font-size:14px;font-weight:normal;transform:scale(1.0204,1.0)">2.22271</div>
<div class="t" style="left:704.92px;top:130.0px;font-size:14px;font-weight:normal;transform:scale(1.0789,1.0)">99.3%</div>
<div class="t" style="left:704.92px;top:148.0px;font-size:14px;font-weight:normal;transform:scale(1.0789,1.0)">99.3%</div>
<div class="t" style="left:55.96px;top:110.0px;font-size:16px;font-weight:normal;transform:scale(1.04,1.0)">100</div>
<div class="t" style="left:63.88px;top:173.0px;font-size:16px;font-weight:normal;transform:scale(1.125,1.0)">80</div>
<div class="t" style="left:63.88px;top:237.0px;font-size:16px;font-weight:normal;transform:scale(1.125,1.0)">60</div>
<div class="t" style="left:65.0px;top:300.0px;font-size:16px;font-weight:normal;transform:scale(1.0588,1.0)">40</div>
<div class="t" style="left:63.88px;top:364.0px;font-size:16px;font-weight:normal;transform:scale(1.125,1.0)">20</div>
<div class="t" style="left:73.86px;top:427.0px;font-size:16px;font-weight:normal;transform:scale(1.1429,1.0)">0</div>
<div class="t" style="left:91.85px;top:457.0px;font-size:16px;font-weight:normal;transform:scale(1.1538,1.0)">-3</div>
<div class="t" style="left:171.83px;top:457.0px;font-size:16px;font-weight:normal;transform:scale(1.1667,1.0)">-2</div>
<div class="t" style="left:250.92px;top:457.0px;font-size:16px;font-weight:normal;transform:scale(1.0833,1.0)">-1</div>
<div class="t" style="left:332.86px;top:457.0px;font-size:16px;font-weight:normal;transform:scale(1.1429,1.0)">0</div>
<div class="t" style="left:412.14px;top:457.0px;font-size:16px;font-weight:normal;transform:scale(0.8571,1.0)">1</div>
<div class="t" style="left:489.86px;top:457.0px;font-size:16px;font-weight:normal;transform:scale(1.1429,1.0)">2</div>
<div class="t" style="left:568.86px;top:457.0px;font-size:16px;font-weight:normal;transform:scale(1.1429,1.0)">3</div>
<div class="t" style="left:23.12px;top:430.0px;font-size:18px;font-weight:bold;-webkit-text-stroke:0.4px #000;transform:rotate(-90deg) scale(1.0033,0.9412)">Probabaility of Home Team Winning</div>

</body></html>
